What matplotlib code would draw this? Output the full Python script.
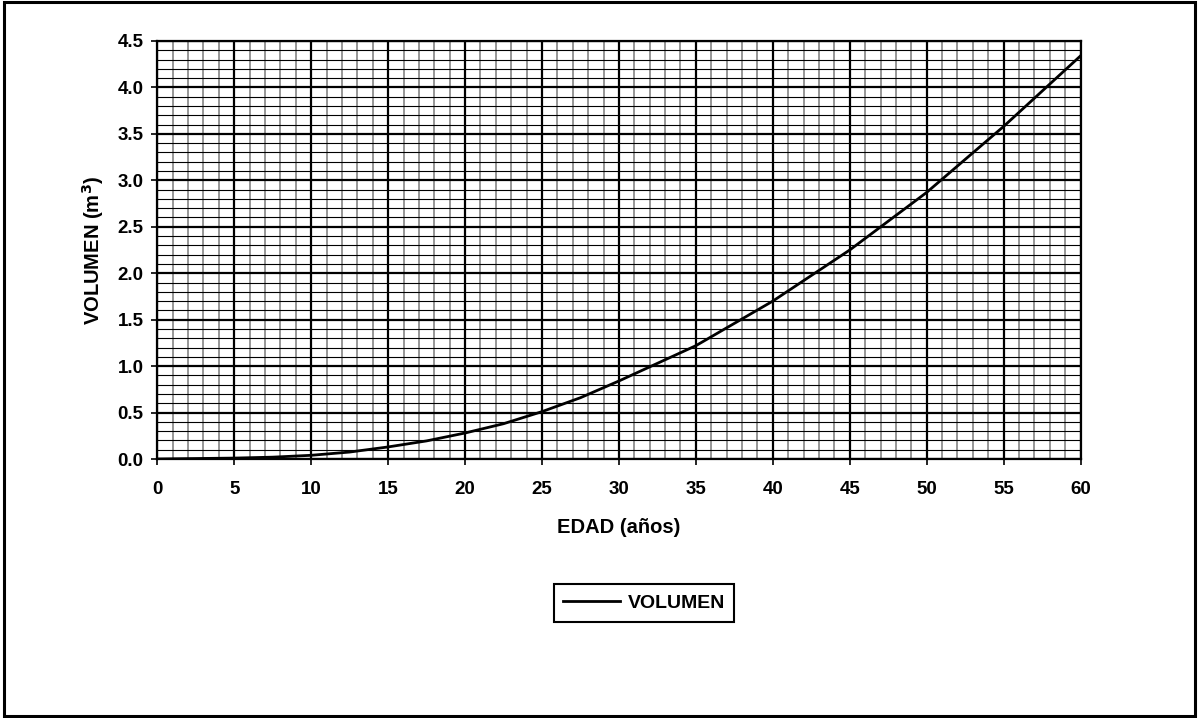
import matplotlib.pyplot as plt
from matplotlib.patches import Rectangle
from matplotlib.ticker import MultipleLocator

plt.rcParams['font.family'] = ['Liberation Sans', 'DejaVu Sans']
plt.rcParams['font.weight'] = 'bold'

# volumen por edad
edad = [0, 5, 7.5, 10, 12.5, 15, 17.5, 20, 22.5, 25, 27.5, 30, 35, 40, 45, 50, 55, 60]
volumen = [0.0, 0.01, 0.02, 0.04, 0.075, 0.13, 0.195, 0.28, 0.38, 0.51, 0.66, 0.84,
           1.22, 1.70, 2.25, 2.87, 3.58, 4.34]

fig = plt.figure(figsize=(11.99, 7.18), dpi=100)
ax = fig.add_axes([0.1312, 0.3607, 0.7700, 0.5822])

ax.plot(edad, volumen, color='black', lw=2.0, label='VOLUMEN', zorder=5)

ax.set_xlim(0, 60)
ax.set_ylim(0, 4.5)
ax.xaxis.set_major_locator(MultipleLocator(5))
ax.xaxis.set_minor_locator(MultipleLocator(1))
ax.yaxis.set_major_locator(MultipleLocator(0.5))
ax.yaxis.set_minor_locator(MultipleLocator(0.1))
ax.yaxis.set_major_formatter(lambda v, p: f'{v:.1f}')

# papel milimetrado
ax.grid(which='minor', axis='x', color='#7a7a7a', lw=1.1)
ax.grid(which='minor', axis='y', color='black', lw=0.8)
ax.grid(which='major', color='black', lw=1.6)
ax.set_axisbelow(True)

ax.tick_params(which='major', direction='out', length=4, width=1.2, labelsize=13.5)
ax.tick_params(axis='x', pad=12)
ax.tick_params(axis='y', pad=6)
ax.tick_params(which='minor', length=0)
for s in ax.spines.values():
    s.set_linewidth(1.6)

ax.set_xlabel('EDAD (años)', fontsize=14.5, fontweight='bold', labelpad=14)
ax.set_ylabel('VOLUMEN (m$^\\mathbf{3}$)', fontsize=14.5, fontweight='bold', labelpad=8)

ax.legend(loc='center', bbox_to_anchor=(644 / 1199, 1 - 603 / 718),
          bbox_transform=fig.transFigure, fancybox=False, edgecolor='black',
          framealpha=1, handlelength=2.9, handletextpad=0.4,
          borderpad=0.5, prop={'weight': 'bold', 'size': 14}).get_frame().set_linewidth(1.5)

# marco exterior
fig.patches.append(Rectangle((0.003, 0.003), 0.994, 0.994, transform=fig.transFigure,
                             fill=False, edgecolor='black', lw=2.2))

fig.savefig('out.png', dpi=100)
